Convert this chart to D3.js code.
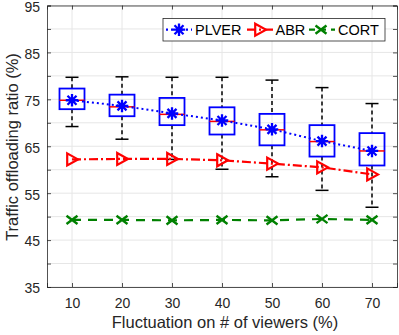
<!DOCTYPE html>
<html><head><meta charset="utf-8">
<script src="https://cdn.jsdelivr.net/npm/d3@7"></script>
<style>body{margin:0;background:#fff}svg{display:block}text{font-family:"Liberation Sans",Arial,sans-serif}</style>
</head><body><svg id="c" width="399" height="335"></svg>
<script>
const xVals = [10, 20, 30, 40, 50, 60, 70];
const plverMean = [74.8, 73.6, 72.0, 70.5, 68.6, 66.1, 64.0];
const plverMedian = [74.8, 73.4, 71.8, 70.3, 68.5, 66.0, 64.0];
const boxQ1 = [72.9, 71.4, 69.5, 67.5, 65.2, 62.8, 60.9];
const boxQ3 = [77.3, 76.0, 75.3, 73.3, 71.9, 69.5, 67.8];
const whiskLo = [69.2, 66.5, 62.2, 60.1, 58.5, 55.6, 52.0];
const whiskHi = [79.7, 79.8, 79.7, 79.7, 79.1, 77.5, 74.1];
const abr = [62.2, 62.3, 62.3, 62.0, 61.3, 60.5, 59.0];
const cort = [49.3, 49.3, 49.2, 49.3, 49.2, 49.5, 49.3];
const yTicks = [35, 45, 55, 65, 75, 85, 95];
const yGrid = [35, 40, 45, 50, 55, 60, 65, 70, 75, 80, 85, 90, 95];
const seriesNames = ["PLVER", "ABR", "CORT"];

const svg = d3.select("#c");
const L = 47, R = 397, T = 5.5, B = 287;
const x = d3.scaleLinear().domain([5, 75]).range([L, R]);
const y = d3.scaleLinear().domain([35, 95]).range([B, T]);
const blue = "#0000ff", red = "#ff0000", green = "#008000";

// grid
const g = svg.append("g");
g.selectAll(".gy").data(yGrid).join("line").attr("x1", L).attr("x2", R)
  .attr("y1", d => y(d)).attr("y2", d => y(d)).attr("stroke", "#e6e6e6").attr("stroke-width", 1);
g.selectAll(".gx").data(xVals).join("line").attr("y1", T).attr("y2", B)
  .attr("x1", d => x(d)).attr("x2", d => x(d)).attr("stroke", "#e6e6e6").attr("stroke-width", 1);

// axes
const axL = svg.append("g").attr("transform", `translate(${L},0)`)
  .call(d3.axisLeft(y).tickValues(yGrid).tickSize(-4).tickPadding(7).tickFormat(d => yTicks.includes(d) ? d : ""));
const axR = svg.append("g").attr("transform", `translate(${R},0)`)
  .call(d3.axisRight(y).tickValues(yGrid).tickSize(-4).tickFormat(""));
const axB = svg.append("g").attr("transform", `translate(0,${B})`)
  .call(d3.axisBottom(x).tickValues(xVals).tickSize(-4).tickPadding(11));
const axT = svg.append("g").attr("transform", `translate(0,${T})`)
  .call(d3.axisTop(x).tickValues(xVals).tickSize(-4).tickFormat(""));
[axL, axR, axB, axT].forEach(a => {
  a.select(".domain").attr("stroke", "#262626").attr("stroke-width", 0.8);
  a.selectAll(".tick line").attr("stroke", "#262626").attr("stroke-width", 0.8);
  a.selectAll("text").attr("fill", "#262626").style("font-size", "14px");
});
axL.selectAll("text").attr("dy", "0.42em");

// box plots
const bw = 12.5, cw = 6.5;
const bx = svg.append("g");
xVals.forEach((v, i) => {
  const cx = x(v);
  bx.append("line").attr("x1", cx).attr("x2", cx).attr("y1", y(whiskHi[i])).attr("y2", y(boxQ3[i]))
    .attr("stroke", "#000").attr("stroke-width", 1.5).attr("stroke-dasharray", "4,3");
  bx.append("line").attr("x1", cx).attr("x2", cx).attr("y1", y(boxQ1[i])).attr("y2", y(whiskLo[i]))
    .attr("stroke", "#000").attr("stroke-width", 1.5).attr("stroke-dasharray", "4,3");
  [whiskHi[i], whiskLo[i]].forEach(w => bx.append("line").attr("x1", cx - cw).attr("x2", cx + cw)
    .attr("y1", y(w)).attr("y2", y(w)).attr("stroke", "#000").attr("stroke-width", 1.5));
  bx.append("rect").attr("x", cx - bw).attr("width", 2 * bw).attr("y", y(boxQ3[i]))
    .attr("height", y(boxQ1[i]) - y(boxQ3[i])).attr("fill", "none").attr("stroke", blue).attr("stroke-width", 1.8);
  bx.append("line").attr("x1", cx - bw).attr("x2", cx + bw).attr("y1", y(plverMedian[i])).attr("y2", y(plverMedian[i]))
    .attr("stroke", red).attr("stroke-width", 1.5);
});

// marker functions
function star(sel, cx, cy, s, col) {
  const r = s / 2, d = r * 0.72;
  const p = `M${cx - r},${cy}L${cx + r},${cy}M${cx},${cy - r}L${cx},${cy + r}M${cx - d},${cy - d}L${cx + d},${cy + d}M${cx - d},${cy + d}L${cx + d},${cy - d}`;
  sel.append("path").attr("d", p).attr("stroke", col).attr("stroke-width", 2.3).attr("fill", "none");
}
function tri(sel, cx, cy, s, col) {
  const r = s / 2;
  sel.append("path").attr("d", `M${cx - r * 0.8},${cy - r}L${cx + r},${cy}L${cx - r * 0.8},${cy + r}Z`)
    .attr("stroke", col).attr("stroke-width", 2.2).attr("fill", "none");
}
function xm(sel, cx, cy, s, col) {
  const r = s / 2;
  sel.append("path").attr("d", `M${cx - r},${cy - r * 0.75}L${cx + r},${cy + r * 0.75}M${cx - r},${cy + r * 0.75}L${cx + r},${cy - r * 0.75}`)
    .attr("stroke", col).attr("stroke-width", 2.4).attr("fill", "none");
}

const line = d3.line().x((d, i) => x(xVals[i])).y(d => y(d));
const ls = svg.append("g");
ls.append("path").datum(cort).attr("d", line).attr("fill", "none").attr("stroke", green).attr("stroke-width", 2.2).attr("stroke-dasharray", "9,7");
ls.append("path").datum(abr).attr("d", line).attr("fill", "none").attr("stroke", red).attr("stroke-width", 2.2).attr("stroke-dasharray", "9,3,2,3");
ls.append("path").datum(plverMean).attr("d", line).attr("fill", "none").attr("stroke", blue).attr("stroke-width", 2).attr("stroke-dasharray", "2,3");
xVals.forEach((v, i) => {
  xm(ls, x(v), y(cort[i]), 11, green);
  tri(ls, x(v), y(abr[i]), 12, red);
  star(ls, x(v), y(plverMean[i]), 12.5, blue);
});

// legend
const lg = svg.append("g");
lg.append("rect").attr("x", 163).attr("y", 18.5).attr("width", 222).attr("height", 22.5)
  .attr("fill", "#fff").attr("stroke", "#262626").attr("stroke-width", 0.8);
const ly = 29.7;
const legItems = [
  {x0: 166, x1: 192, mx: 179, tx: 195, col: blue, dash: "2,3", m: star, s: 12.5},
  {x0: 247, x1: 273, mx: 260, tx: 275.5, col: red, dash: "9,3,2,3", m: tri, s: 12},
  {x0: 309, x1: 335, mx: 321, tx: 338, col: green, dash: "6,5", m: xm, s: 11}
];
legItems.forEach((it, i) => {
  lg.append("line").attr("x1", it.x0).attr("x2", it.x1).attr("y1", ly).attr("y2", ly)
    .attr("stroke", it.col).attr("stroke-width", 2.2).attr("stroke-dasharray", it.dash);
  it.m(lg, it.mx, ly, it.s, it.col);
  lg.append("text").attr("x", it.tx).attr("y", ly + 5.2).text(seriesNames[i]).style("font-size", "14.5px").attr("fill", "#000");
});

// axis labels
svg.append("text").attr("x", 225).attr("y", 328).attr("text-anchor", "middle").style("font-size", "16.5px")
  .attr("fill", "#262626").text("Fluctuation on # of viewers (%)");
svg.append("text").attr("transform", "translate(18,147) rotate(-90)").attr("text-anchor", "middle").style("font-size", "16.5px")
  .attr("fill", "#262626").text("Traffic offloading ratio (%)");
</script></body></html>
